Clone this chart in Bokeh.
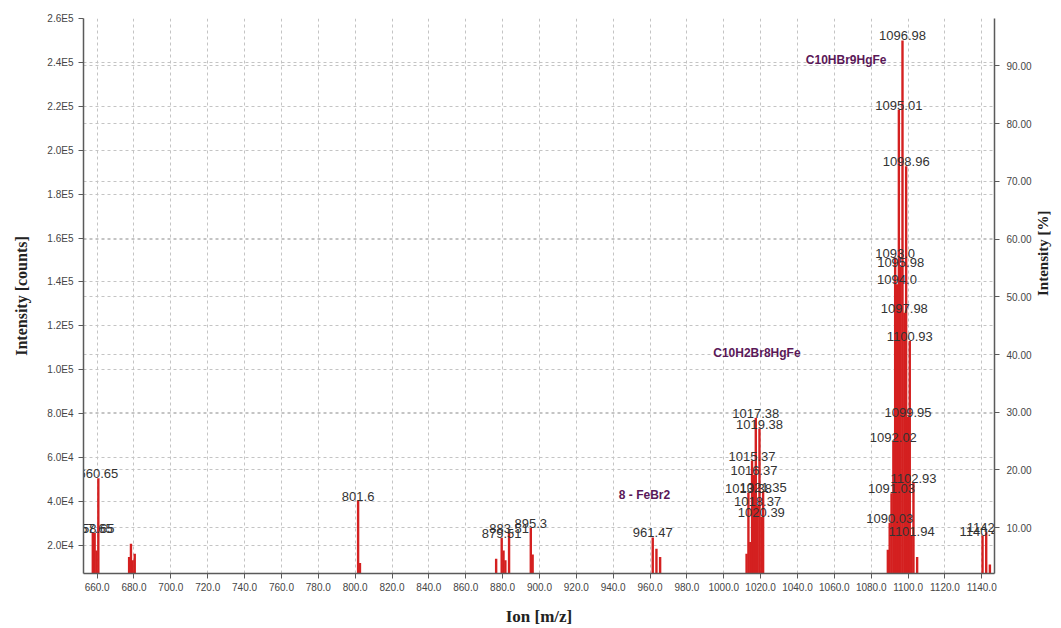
import math
from bokeh.plotting import figure
from bokeh.models import Range1d, LinearAxis, FixedTicker, Grid, Label, ColumnDataSource
from bokeh.core.properties import value
from bokeh.embed import file_html
from bokeh.resources import INLINE

# ---- data ----
mz = [657.65, 658.65, 659.65, 660.65,
      677.35, 678.35, 679.3, 680.4,
      801.6, 802.6,
      876.5, 879.51, 880.5, 881.5, 883.51,
      895.3, 896.3,
      961.47, 963.47, 965.47,
      1012.38, 1013.38, 1014.38, 1015.37, 1016.37, 1017.38, 1018.37, 1019.38, 1020.39, 1021.35,
      1089.03, 1090.03, 1091.03, 1092.02, 1093.0, 1094.0, 1095.01, 1095.98, 1096.98, 1097.98,
      1098.96, 1099.95, 1100.93, 1101.94, 1102.93, 1104.92,
      1140.41, 1142.4, 1144.4]
counts = [25600, 25600, 17700, 50600,
          14700, 20800, 13200, 16200,
          40400, 12000,
          13900, 23500, 17700, 13200, 25700,
          27900, 15800,
          23600, 18500, 14750,
          16200, 44000, 21500, 58600, 52100, 78100, 38000, 73200, 32900, 44500,
          18000, 30300, 43800, 67200, 151100, 138900, 218400, 147000, 250000, 126000,
          192700, 78500, 113100, 24400, 48400, 14750,
          24500, 26000, 11300]
peak_labels = ["657.65", "658.65", "", "660.65",
               "", "", "", "",
               "801.6", "",
               "", "879.51", "", "", "883.51",
               "895.3", "",
               "961.47", "", "",
               "", "1013.38", "", "1015.37", "1016.37", "1017.38", "1018.37", "1019.38", "1020.39", "1021.35",
               "", "1090.03", "1091.03", "1092.02", "1093.0", "1094.0", "1095.01", "1095.98", "1096.98", "1097.98",
               "1098.96", "1099.95", "1100.93", "1101.94", "1102.93", "",
               "1140.41", "1142.4", ""]

x_ticks = [660, 680, 700, 720, 740, 760, 780, 800, 820, 840, 860, 880, 900, 920,
           940, 960, 980, 1000, 1020, 1040, 1060, 1080, 1100, 1120, 1140]
x_tick_labels = ["660.0", "680.0", "700.0", "720.0", "740.0", "760.0", "780.0", "800.0",
                 "820.0", "840.0", "860.0", "880.0", "900.0", "920.0", "940.0", "960.0",
                 "980.0", "1000.0", "1020.0", "1040.0", "1060.0", "1080.0", "1100.0",
                 "1120.0", "1140.0"]
y_ticks = [20000, 40000, 60000, 80000, 100000, 120000, 140000, 160000, 180000,
           200000, 220000, 240000, 260000]
y_tick_labels = ["2.0E4", "4.0E4", "6.0E4", "8.0E4", "1.0E5", "1.2E5", "1.4E5", "1.6E5",
                 "1.8E5", "2.0E5", "2.2E5", "2.4E5", "2.6E5"]
pct_ticks = [10, 20, 30, 40, 50, 60, 70, 80, 90]
pct_tick_labels = ["10.00", "20.00", "30.00", "40.00", "50.00", "60.00", "70.00", "80.00", "90.00"]

annotations = ["C10HBr9HgFe", "C10H2Br8HgFe", "8 - FeBr2"]

# ---- ranges ----
X0, X1 = 652.6, 1146.9
Y0, Y1 = 7200, 260000
P0, P1 = 2.07, 98.2

BAR = "#d42020"
GRID = "#c4c4c4"
AXIS = "#5a5a5a"
TICKTXT = "#454545"
PURPLE = "#5a1858"

p = figure(width=1061, height=628, output_backend="svg", toolbar_location=None,
           x_range=Range1d(X0, X1), y_range=Range1d(Y0, Y1),
           min_border_left=83, min_border_right=65, min_border_top=18, min_border_bottom=53)
p.outline_line_color = None
p.background_fill_color = "white"
p.border_fill_color = "white"

src = ColumnDataSource(dict(mz=mz, counts=counts))
p.vbar(x="mz", top="counts", bottom=0, width=1.3, source=src,
       fill_color=BAR, line_color=None)

lab_x = [m for m, t in zip(mz, peak_labels) if t]
lab_y = [c for c, t in zip(counts, peak_labels) if t]
lab_t = [t for t in peak_labels if t]
p.text(x=lab_x, y=lab_y, text=lab_t, text_align="center", text_baseline="bottom",
       text_font=value("Liberation Sans"), text_font_size="13px", text_color="#333333")

# annotation labels (purple)
ann_pos = [(1066.4, 240900), (1018.0, 107500), (957.0, 43050)]
for t, (ax, ay) in zip(annotations, ann_pos):
    p.add_layout(Label(x=ax, y=ay, text=t, text_align="center", text_baseline="middle",
                       text_font="Liberation Sans", text_font_style="bold",
                       text_font_size="12px", text_color=PURPLE))

# axes
def style_axis(ax):
    ax.axis_line_color = AXIS
    ax.axis_line_width = 1.5
    ax.major_tick_line_color = AXIS
    ax.major_tick_in = 0
    ax.major_tick_out = 5
    ax.minor_tick_line_color = None
    ax.major_label_text_font = "Liberation Sans"
    ax.major_label_text_font_size = "10px"
    ax.major_label_text_color = TICKTXT
    ax.axis_label_text_font = "Liberation Serif"
    ax.axis_label_text_font_style = "bold"
    ax.axis_label_text_color = "#222222"

xa = p.xaxis[0]
xa.ticker = FixedTicker(ticks=x_ticks)
xa.major_label_overrides = {t: l for t, l in zip(x_ticks, x_tick_labels)}
style_axis(xa)
xa.axis_label = "Ion [m/z]"
xa.axis_label_text_font_size = "17px"
xa.major_label_standoff = 4
xa.axis_label_standoff = 13

ya = p.yaxis[0]
ya.ticker = FixedTicker(ticks=y_ticks)
ya.major_label_overrides = {t: l for t, l in zip(y_ticks, y_tick_labels)}
style_axis(ya)
ya.axis_label = "Intensity [counts]"
ya.axis_label_text_font_size = "16px"
ya.major_label_standoff = 5
ya.axis_label_standoff = 14

p.extra_y_ranges = {"pct": Range1d(P0, P1)}
ra = LinearAxis(y_range_name="pct", ticker=FixedTicker(ticks=pct_ticks))
ra.major_label_overrides = {t: l for t, l in zip(pct_ticks, pct_tick_labels)}
style_axis(ra)
ra.axis_label = "Intensity [%]"
ra.axis_label_text_font_size = "15px"
ra.major_label_standoff = 7
ra.axis_label_standoff = 8
try:
    ra.axis_label_orientation = math.pi / 2
except Exception:
    pass
p.add_layout(ra, "right")

# grids
p.xgrid.ticker = FixedTicker(ticks=x_ticks)
p.ygrid.ticker = FixedTicker(ticks=y_ticks)
for g in (p.xgrid[0], p.ygrid[0]):
    g.grid_line_color = GRID
    g.grid_line_dash = "3 3"
    g.grid_line_width = 1
pct_in_counts = [Y0 + (v - P0) / (P1 - P0) * (Y1 - Y0) for v in pct_ticks]
g2 = Grid(dimension=1, ticker=FixedTicker(ticks=pct_in_counts),
          grid_line_color=GRID, grid_line_dash="3 3", grid_line_width=1)
p.add_layout(g2)

with open("out.html", "w") as f:
    f.write(file_html(p, INLINE))
